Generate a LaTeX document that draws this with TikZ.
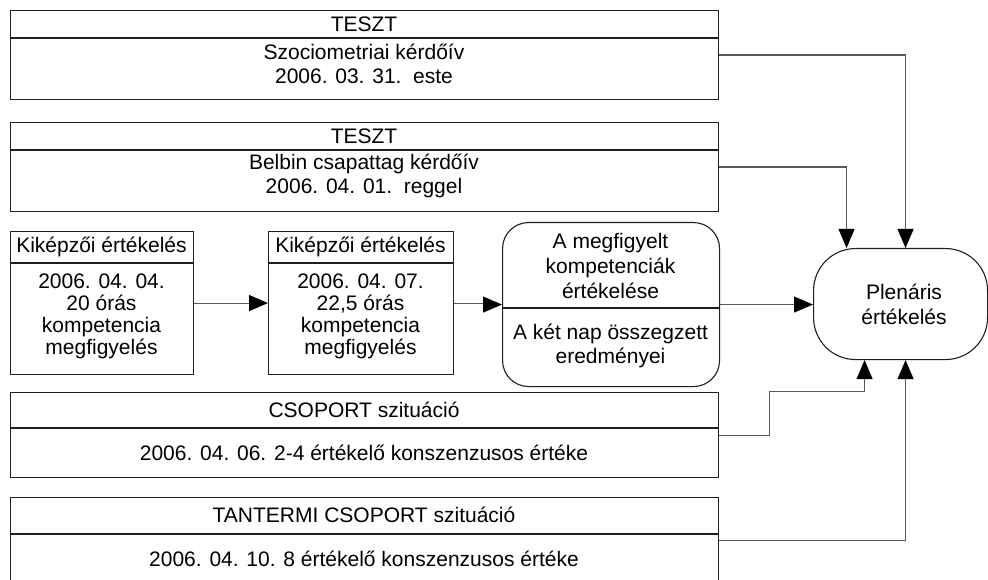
\documentclass[tikz,border=0pt]{standalone}
\usepackage{fontspec}
\setmainfont{Liberation Sans}
\usetikzlibrary{arrows.meta}
\definecolor{boxcol}{gray}{0.12}
\definecolor{linecol}{gray}{0.35}
\begin{document}
\begin{tikzpicture}[x=1pt,y=-1pt,
  every node/.style={font=\fontsize{21}{23.5}\selectfont, text=black},
  frame/.style={draw=boxcol, line width=1.1pt, rectangle, inner sep=0pt, anchor=north west},
  txt/.style={align=center, inner sep=0pt},
  conn/.style={draw=linecol, line width=1.1pt},
  arr/.style={conn, -{Triangle[length=19pt,width=16pt,color=black]}}
]
\clip (0,0) rectangle (988,580);
\fill[white] (0,0) rectangle (988,580);

% TESZT 1
\node[frame, minimum width=708pt, minimum height=89pt] (b1) at (10,10) {};
\draw[draw=boxcol, line width=1.1pt] (b1.west |- 0,38) -- (b1.east |- 0,38);
\node[txt] (b1h) at (364,24) {TESZT};
\node[txt] (b1t) at (364,64) {Szociometriai kérdőív\\2006. 03. 31.\ \ este};

% TESZT 2
\node[frame, minimum width=708pt, minimum height=89pt] (b2) at (10,122) {};
\draw[draw=boxcol, line width=1.1pt] (b2.west |- 0,150) -- (b2.east |- 0,150);
\node[txt] (b2h) at (364,136) {TESZT};
\node[txt] (b2t) at (364,176) {Belbin csapattag kérdőív\\2006. 04. 01.\ \ reggel};

% Kikepzoi 1
\node[frame, minimum width=183pt, minimum height=143pt] (k1) at (10,231) {};
\draw[draw=boxcol, line width=1.1pt] (k1.west |- 0,263) -- (k1.east |- 0,263);
\node[txt] (k1h) at (101.5,247) {Kiképzői értékelés};
\node[txt, font=\fontsize{21}{22}\selectfont] (k1t) at (101.5,316) {2006. 04. 04.\\20 órás\\kompetencia\\megfigyelés};

% Kikepzoi 2
\node[frame, minimum width=185pt, minimum height=143pt] (k2) at (268,231) {};
\draw[draw=boxcol, line width=1.1pt] (k2.west |- 0,263) -- (k2.east |- 0,263);
\node[txt] (k2h) at (360.5,247) {Kiképzői értékelés};
\node[txt, font=\fontsize{21}{22}\selectfont] (k2t) at (360.5,316) {2006. 04. 07.\\22,5 órás\\kompetencia\\megfigyelés};

% Rounded box
\node[frame, rounded corners=26pt, minimum width=217pt, minimum height=164pt] (r) at (502,222) {};
\draw[draw=boxcol, line width=1.1pt] (r.west |- 0,308) -- (r.east |- 0,308);
\node[txt, font=\fontsize{21}{25}\selectfont] (rh) at (610.5,266) {A megfigyelt\\kompetenciák\\értékelése};
\node[txt, font=\fontsize{21}{24}\selectfont] (rt) at (610.5,346) {A két nap összegzett\\eredményei};

% Plenaris
\node[frame, rounded corners=42pt, minimum width=174pt, minimum height=111pt] (p) at (813,248) {};
\node[txt, font=\fontsize{21}{25}\selectfont] (pt) at (904,304) {Plenáris\\értékelés};

% CSOPORT
\node[frame, minimum width=708pt, minimum height=85pt] (c) at (10,392) {};
\draw[draw=boxcol, line width=1.1pt] (c.west |- 0,428) -- (c.east |- 0,428);
\node[txt] (ch) at (364,410) {CSOPORT szituáció};
\node[txt] (ct) at (364,453) {2006. 04. 06. 2-4 értékelő konszenzusos értéke};

% TANTERMI
\node[frame, minimum width=708pt, minimum height=86pt] (t) at (10,497) {};
\draw[draw=boxcol, line width=1.1pt] (t.west |- 0,534) -- (t.east |- 0,534);
\node[txt] (th) at (364,515) {TANTERMI CSOPORT szituáció};
\node[txt] (tt) at (364,559) {2006. 04. 10. 8 értékelő konszenzusos értéke};

% connectors
\draw[arr] (b1.east) -| ([xshift=5pt]p.north);
\draw[arr] (b2.east) -| ([xshift=-54pt]p.north);
\draw[arr] (k1.east) -- (k2.west);
\draw[arr] (k2.east) -- ++(29,0) |- (r.west);
\draw[arr] (r.east) -- (r.east -| p.west);
\draw[arr] (c.east) -- ++(50,0) |- ([xshift=-36pt,yshift=-31pt]p.south) -- ([xshift=-36pt]p.south);
\draw[arr] (t.east) -| ([xshift=5pt]p.south);
\end{tikzpicture}
\end{document}
